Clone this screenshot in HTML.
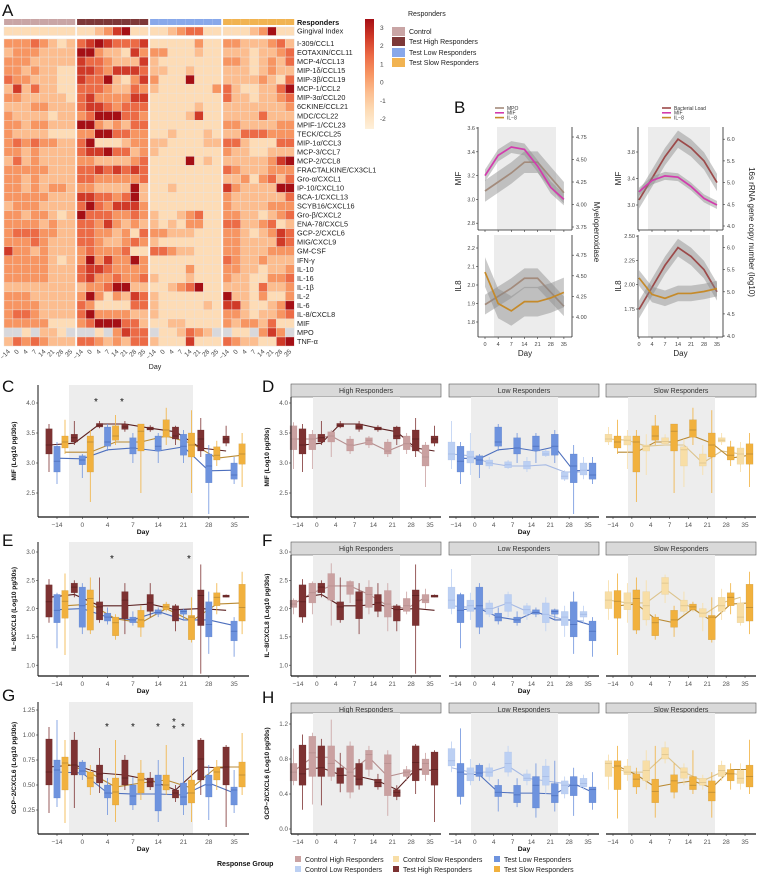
<!DOCTYPE html>
<html><head><meta charset="utf-8"><style>
html,body{margin:0;padding:0;background:#fff;}
svg{display:block;font-family:"Liberation Sans",Arial,sans-serif;}
</style></head><body>
<svg id="fig" width="757" height="879" viewBox="0 0 757 879" xmlns="http://www.w3.org/2000/svg"></svg>
<script>
// ---------- DATA ----------
const days=['\u221214','0','4','7','14','21','28','35'];
const heatRows=['Gingival Index','I-309/CCL1','EOTAXIN/CCL11','MCP-4/CCL13','MIP-1\u03b4/CCL15','MIP-3\u03b2/CCL19','MCP-1/CCL2','MIP-3\u03b1/CCL20','6CKINE/CCL21','MDC/CCL22','MPIF-1/CCL23','TECK/CCL25','MIP-1\u03b1/CCL3','MCP-3/CCL7','MCP-2/CCL8','FRACTALKINE/CX3CL1','Gro-\u03b1/CXCL1','IP-10/CXCL10','BCA-1/CXCL13','SCYB16/CXCL16','Gro-\u03b2/CXCL2','ENA-78/CXCL5','GCP-2/CXCL6','MIG/CXCL9','GM-CSF','IFN-\u03b3','IL-10','IL-16','IL-1\u03b2','IL-2','IL-6','IL-8/CXCL8','MIF','MPO','TNF-\u03b1'];
const heatVals=[
"11111111"+"11235611"+"11234411"+"11123611",
"33343212"+"45654445"+"11111311"+"33222342",
"23332222"+"66322153"+"33111211"+"22212234",
"33322222"+"54432225"+"21111111"+"33212324",
"33232211"+"55435554"+"22112111"+"22212322",
"43322211"+"54462135"+"31116111"+"22223214",
"25242211"+"44432243"+"21111113"+"42112246",
"33222221"+"45333355"+"11111111"+"42212234",
"22233222"+"45543444"+"11111211"+"22222223",
"32222122"+"34666443"+"11112511"+"22224222",
"33233222"+"66323244"+"11111111"+"33222233",
"32222111"+"33664433"+"11211121"+"22444333",
"34343322"+"46111233"+"22111122"+"44211144",
"33232222"+"45564423"+"21111111"+"32211222",
"24232222"+"33222234"+"11116121"+"22222356",
"33333222"+"44545454"+"11111111"+"43222333",
"33232222"+"44333334"+"11111111"+"22313424",
"33232332"+"33222262"+"11211111"+"53222266",
"33333222"+"55443462"+"11111111"+"32222224",
"23332222"+"46435553"+"11111111"+"32222333",
"33233212"+"64443343"+"21123411"+"33221234",
"33332322"+"44353232"+"21213311"+"44223412",
"34443322"+"44332314"+"33222111"+"33212354",
"33343222"+"44322343"+"21111111"+"33222254",
"53323222"+"34333411"+"44322111"+"33222333",
"33333212"+"36353363"+"11111111"+"43223222",
"33333222"+"45543333"+"11113111"+"33221223",
"33333222"+"45334334"+"21112111"+"32211334",
"22222222"+"23346622"+"11234611"+"22214223",
"33322222"+"36313254"+"21111111"+"62213113",
"33332222"+"43111144"+"21111121"+"55211236",
"34432222"+"46333322"+"21111111"+"33212234",
"33333111"+"34666442"+"11221111"+"32332411",
"gg1g221g"+"gg1g3544"+"g112432g"+"g11g353g",
"24343222"+"44323244"+"21115111"+"43221156"];
const colorbarTicks=[3,2,1,0,-1,-2];
const groupNames=['Control','Test High Responders','Test Low Responders','Test Slow Responders'];

// Panel B
const bDays=['0','4','7','14','21','28','35'];
const bMIF=[3.20,3.37,3.44,3.42,3.28,3.10,3.00];
const bMPO=[4.15,4.25,4.35,4.47,4.47,4.30,4.13];
const bIL8=[2.07,1.90,1.86,1.91,1.91,1.93,1.96];
const bLoad=[4.6,5.1,5.6,6.0,5.8,5.5,5.0];

// Box data [lo,q1,med,q3,hi]
const mifTH=[[2.85,3.15,3.30,3.57,3.65],[3.30,3.35,3.42,3.48,3.70],[3.58,3.60,3.63,3.66,3.70],[3.52,3.56,3.60,3.65,3.70],[3.52,3.55,3.57,3.60,3.63],[3.30,3.40,3.45,3.60,3.62],[3.10,3.20,3.40,3.55,3.75],[3.28,3.33,3.40,3.45,3.62]];
const mifTL=[[2.65,2.85,3.03,3.28,3.35],[2.75,2.97,3.05,3.12,3.15],[3.20,3.28,3.35,3.60,3.65],[3.00,3.15,3.25,3.42,3.50],[3.00,3.20,3.28,3.45,3.50],[3.00,3.13,3.28,3.48,3.55],[2.15,2.67,2.95,3.15,3.30],[2.65,2.73,2.80,3.00,3.10]];
const mifTS=[[3.15,3.25,3.35,3.45,3.72],[2.35,2.85,3.35,3.45,3.55],[3.30,3.38,3.45,3.62,3.80],[2.50,3.20,3.53,3.65,3.65],[3.30,3.43,3.55,3.72,3.92],[2.50,3.10,3.30,3.50,3.88],[2.95,3.05,3.13,3.27,3.37],[2.60,2.98,3.15,3.32,3.50]];
const mifCH=[[2.9,3.22,3.40,3.62,3.68],[2.9,3.22,3.40,3.48,3.55],[3.1,3.35,3.45,3.52,3.55],[3.15,3.20,3.30,3.40,3.45],[3.25,3.30,3.38,3.42,3.45],[3.10,3.15,3.20,3.35,3.40],[3.15,3.22,3.32,3.45,3.50],[2.60,2.95,3.10,3.30,3.35]];
const mifCL=[[2.9,3.05,3.15,3.35,3.70],[2.8,3.00,3.10,3.20,3.50],[2.90,2.95,3.00,3.05,3.10],[2.90,2.92,2.97,3.02,3.05],[2.85,2.90,2.95,3.03,3.10],[3.10,3.12,3.15,3.20,3.22],[2.70,2.73,2.78,2.85,2.88],[2.73,2.80,2.88,3.00,3.10]];
const mifCS=[[3.30,3.35,3.40,3.48,3.60],[2.90,3.30,3.38,3.45,3.55],[2.80,3.20,3.28,3.30,3.48],[3.30,3.32,3.36,3.42,3.48],[2.60,2.95,3.22,3.27,3.40],[2.80,2.95,3.00,3.15,3.30],[3.30,3.35,3.38,3.42,3.50],[2.85,2.98,3.15,3.25,3.35]];
const mifTrTH=[3.30,3.33,3.65,3.65,3.58,3.52,3.25,3.20];
const mifTrTL=[3.08,3.07,3.22,3.25,3.20,3.27,2.87,2.88];
const mifTrTS=[3.18,3.18,3.35,3.35,3.45,3.33,3.08,3.13];
const mifTrCH=[3.40,3.40,3.45,3.28,3.35,3.20,3.33,3.12];
const mifTrCL=[3.15,3.12,3.00,2.95,2.95,2.97,2.85,2.85];
const mifTrCS=[3.40,3.38,3.28,3.30,3.30,3.00,3.20,3.15];

const il8TH=[[1.75,1.85,2.12,2.42,2.52],[2.20,2.28,2.38,2.45,2.50],[1.75,1.80,2.03,2.12,2.55],[1.55,1.82,2.15,2.30,2.45],[1.85,1.95,2.10,2.25,2.45],[1.60,1.78,1.98,2.05,2.08],[0.85,1.70,2.23,2.33,2.78],[2.20,2.20,2.22,2.24,2.25]];
const il8TL=[[1.30,1.75,1.97,2.25,2.28],[1.55,1.67,2.05,2.38,2.45],[1.72,1.78,1.85,1.92,2.02],[1.70,1.75,1.80,1.85,1.95],[1.85,1.90,1.93,1.98,2.02],[1.80,1.90,1.95,1.98,2.00],[1.20,1.50,1.72,2.12,2.30],[1.15,1.43,1.60,1.78,1.85]];
const il8TS=[[1.18,1.83,2.13,2.32,2.62],[1.55,1.62,2.18,2.33,2.55],[1.45,1.52,1.75,1.85,1.90],[1.50,1.67,1.80,1.97,2.05],[1.95,1.98,2.03,2.08,2.12],[1.40,1.45,1.85,1.88,2.20],[1.90,2.05,2.20,2.28,2.45],[1.55,1.78,2.02,2.43,2.65]];
const il8CH=[[1.9,2.02,2.08,2.15,2.18],[1.9,2.10,2.28,2.45,2.48],[1.7,2.15,2.40,2.62,2.80],[2.1,2.25,2.40,2.48,2.50],[1.9,2.02,2.25,2.38,2.50],[1.6,1.85,2.08,2.32,2.45],[1.9,1.95,2.05,2.18,2.30],[2.0,2.10,2.15,2.25,2.35]];
const il8CL=[[1.9,2.0,2.15,2.38,2.70],[1.8,1.95,2.05,2.15,2.28],[1.85,1.90,2.00,2.10,2.15],[1.85,1.95,2.10,2.25,2.30],[1.80,1.90,1.98,2.05,2.10],[1.60,1.75,1.90,2.10,2.20],[1.50,1.70,1.85,1.95,2.05],[1.75,1.85,1.90,1.95,2.05]];
const il8CS=[[1.80,2.00,2.15,2.30,2.50],[1.75,1.98,2.10,2.28,2.45],[1.70,1.80,2.05,2.30,2.50],[2.10,2.25,2.45,2.55,2.60],[1.90,1.95,2.05,2.15,2.30],[1.60,1.85,1.92,2.00,2.10],[1.80,1.95,2.05,2.20,2.35],[1.70,1.75,1.85,2.10,2.20]];
const il8TrTH=[2.20,2.25,2.05,2.05,2.08,1.98,2.00,1.97];
const il8TrTL=[1.98,2.00,1.85,1.80,1.95,1.80,1.80,1.70];
const il8TrTS=[2.05,2.08,1.82,1.75,2.00,1.78,2.08,2.10];
const il8TrCH=[2.08,2.28,2.40,2.40,2.25,2.05,2.00,2.20];
const il8TrCL=[2.05,2.02,1.98,2.10,1.95,1.90,1.80,1.78];
const il8TrCS=[2.15,2.10,2.10,2.35,2.10,1.88,2.10,2.20];

const gcpTH=[[0.22,0.50,0.63,0.96,1.08],[0.27,0.60,0.70,0.95,1.03],[0.42,0.52,0.61,0.70,0.87],[0.45,0.50,0.57,0.75,0.80],[0.45,0.48,0.53,0.57,0.63],[0.33,0.37,0.42,0.45,0.50],[0.40,0.55,0.76,0.95,0.97],[0.08,0.50,0.68,0.88,0.90]];
const gcpTL=[[0.28,0.37,0.65,0.75,1.15],[0.55,0.60,0.64,0.73,0.75],[0.20,0.37,0.42,0.50,0.57],[0.25,0.30,0.39,0.50,0.58],[0.13,0.24,0.50,0.60,0.75],[0.20,0.30,0.38,0.52,0.78],[0.15,0.38,0.50,0.60,0.70],[0.22,0.30,0.45,0.48,0.65]];
const gcpTS=[[0.12,0.45,0.72,0.78,0.95],[0.40,0.48,0.57,0.63,0.70],[0.13,0.30,0.43,0.57,0.95],[0.35,0.42,0.55,0.62,0.75],[0.40,0.45,0.50,0.60,0.90],[0.13,0.32,0.42,0.55,0.65],[0.45,0.55,0.63,0.68,0.75],[0.40,0.48,0.60,0.73,1.02]];
const gcpCH=[[0.50,0.55,0.65,0.75,0.92],[0.28,0.60,0.87,1.06,1.10],[0.55,0.60,0.75,0.95,1.25],[0.35,0.42,0.65,0.95,1.00],[0.60,0.68,0.85,0.90,0.95],[0.15,0.38,0.75,0.85,0.90],[0.55,0.60,0.65,0.68,0.72],[0.55,0.62,0.75,0.80,0.87]];
const gcpCL=[[0.65,0.72,0.78,0.92,1.00],[0.50,0.55,0.63,0.70,0.80],[0.55,0.60,0.65,0.70,0.75],[0.60,0.65,0.75,0.88,0.95],[0.50,0.55,0.58,0.63,0.68],[0.40,0.50,0.60,0.72,0.80],[0.35,0.40,0.50,0.55,0.60],[0.45,0.48,0.52,0.58,0.62]];
const gcpCS=[[0.45,0.60,0.75,0.78,0.85],[0.55,0.62,0.65,0.72,0.80],[0.45,0.55,0.67,0.78,0.90],[0.75,0.80,0.85,0.93,1.00],[0.50,0.58,0.65,0.70,0.75],[0.45,0.50,0.53,0.58,0.62],[0.55,0.60,0.67,0.73,0.78],[0.45,0.52,0.58,0.67,0.75]];
const gcpTrTH=[0.68,0.70,0.62,0.60,0.55,0.45,0.68,0.67];
const gcpTrTL=[0.63,0.62,0.42,0.41,0.41,0.40,0.52,0.42];
const gcpTrTS=[0.72,0.62,0.48,0.52,0.55,0.47,0.68,0.68];
const gcpTrCH=[0.66,0.82,0.82,0.65,0.82,0.60,0.65,0.70];
const gcpTrCL=[0.70,0.65,0.65,0.72,0.58,0.55,0.52,0.48];
const gcpTrCS=[0.72,0.65,0.65,0.85,0.65,0.55,0.65,0.62];

const legendLabels=['Control High Responders','Control Low Responders','Control Slow Responders','Test High Responders','Test Low Responders','Test Slow Responders'];

// ---------- DRAWING ----------
const NS='http://www.w3.org/2000/svg';
const svg=document.getElementById('fig');
function mk(tag,attrs,parent){const e=document.createElementNS(NS,tag);for(const k in attrs)e.setAttribute(k,attrs[k]);(parent||svg).appendChild(e);return e;}
function txt(x,y,s,attrs,parent){const e=mk('text',Object.assign({x:x,y:y},attrs),parent);e.textContent=s;return e;}
const C={CH:'#caa1a1',TH:'#7d3232',CL:'#bcd0f3',TL:'#6e93de',CS:'#f8dea6',TS:'#f1b13e'};
const LC={CH:'#b58e8e',TH:'#5a1f1f',CL:'#a5b9e4',TL:'#4d6fbd',CS:'#dcc38c',TS:'#b98a34'};
const heatPal=['#fef0da','#fddcb6','#fcbd8f','#f79562','#ec6b46','#d03a28','#a50f15'];
const grpCol=['#c9a5a5','#7d3838','#88a8ea','#f1b351'];

// Panel letters
[['A',2,16],['B',454,113],['C',2,392],['D',262,392],['E',2,546],['F',262,546],['G',2,701],['H',262,703]].forEach(function(p){
  const t=txt(p[1],p[2],p[0],{'font-size':17,fill:'#111'});
  
  
});

// Heatmap
const hm=mk('g',{});


const gx=[4,77,150,223], cw=8.9, rowTop=39, rh=9.03;
for(let g=0;g<4;g++){
  const bar=mk('rect',{x:gx[g],y:19,width:cw*8,height:6,fill:grpCol[g]},hm);
  
  
  for(let c=0;c<8;c++){
    mk('line',{x1:gx[g]+c*cw,x2:gx[g]+c*cw,y1:19,y2:25,stroke:'#fff','stroke-width':0.3,'stroke-opacity':0.5},hm);
  }
}
heatVals.forEach(function(row,r){
  const y=r===0?27:rowTop+(r-1)*rh;
  const h=r===0?8.5:rh;
  for(let i=0;i<32;i++){
    const g=Math.floor(i/8),c=i%8;
    const ch=row[i];
    const fill=ch==='g'?'#d8d8dc':heatPal[+ch];
    const cell=mk('rect',{x:gx[g]+c*cw,y:y,width:cw,height:h,fill:fill,stroke:'#e9e2dc','stroke-width':0.4},hm);
    
    
  }
  const lab=txt(297,y+h-2,heatRows[r],{'font-size':7.3,fill:'#222'},hm);
  
  
});
{const t=txt(297,25,'Responders',{'font-size':7.3,'font-weight':'bold',fill:'#111'},hm);

}
for(let g=0;g<4;g++)for(let c=0;c<8;c++){
  const x=gx[g]+c*cw+cw/2+2, y=352;
  const t=txt(x,y,days[c],{'font-size':6.5,fill:'#444','text-anchor':'end',transform:'rotate(-45 '+x+' '+y+')'},hm);
  
  
}
{const t=txt(155,369,'Day',{'font-size':7,fill:'#222','text-anchor':'middle'},hm);

}
// colorbar
const defs=mk('defs',{});
const lg=mk('linearGradient',{id:'cb',x1:0,y1:0,x2:0,y2:1},defs);
['#a50f15','#d03a28','#ec6b46','#f79562','#fcbd8f','#fddcb6','#fef0da'].forEach(function(c,i){mk('stop',{offset:(i/6),'stop-color':c},lg);});
{const cb=mk('rect',{x:365,y:19,width:9,height:110,fill:'url(#cb)'});

}
colorbarTicks.forEach(function(v,i){
  const t=txt(380,30+i*18.2,String(v).replace('-','-'),{'font-size':6.5,fill:'#444'});
  
  
});
{const t=txt(408,16,'Responders',{'font-size':7,fill:'#222'});

}
groupNames.forEach(function(n,i){
  const y=[27,37,48,58][i];
  const s=mk('rect',{x:392,y:y,width:13,height:9,fill:grpCol[i]});
  
  
  const t=txt(409,y+7,n,{'font-size':7,fill:'#222'});
  
  
});

// Panel B
function bPanel(cfg){
  const g=mk('g',{});
  
  
  const xs=function(i){return cfg.xa+i*cfg.xs;};
  mk('rect',{x:cfg.sh[0],y:cfg.yt,width:cfg.sh[1]-cfg.sh[0],height:cfg.yb-cfg.yt,fill:'#ececec'},g);
  cfg.series.forEach(function(s){
    const pts=[],lo=[],hi=[];
    s.vals.forEach(function(v,i){pts.push(xs(i)+','+s.map(v));lo.push(xs(i)+','+s.map(v-s.band));hi.unshift(xs(i)+','+s.map(v+s.band));});
    const rb=mk('polygon',{points:lo.concat(hi).join(' '),fill:'#8a8a8a','fill-opacity':0.45},g);
    
    
    const ln=mk('polyline',{points:pts.join(' '),fill:'none',stroke:s.color,'stroke-width':1.7},g);
    
    
  });
  mk('line',{x1:cfg.xl,x2:cfg.xl,y1:cfg.yt,y2:cfg.yb,stroke:'#222','stroke-width':0.8},g);
  mk('line',{x1:cfg.xl,x2:cfg.xr,y1:cfg.yb,y2:cfg.yb,stroke:'#222','stroke-width':0.8},g);
  mk('line',{x1:cfg.xr,x2:cfg.xr,y1:cfg.yt,y2:cfg.yb,stroke:'#222','stroke-width':0.8},g);
  cfg.lt.forEach(function(t){const y=cfg.lmap(t[0]);mk('line',{x1:cfg.xl-2,x2:cfg.xl,y1:y,y2:y,stroke:'#333','stroke-width':0.6},g);
    const e=txt(cfg.xl-3,y+2,t[1],{'font-size':5.5,fill:'#444','text-anchor':'end'},g);});
  cfg.rt.forEach(function(t){const y=cfg.rmap(t[0]);mk('line',{x1:cfg.xr,x2:cfg.xr+2,y1:y,y2:y,stroke:'#333','stroke-width':0.6},g);
    const e=txt(cfg.xr+4,y+2,t[1],{'font-size':5.5,fill:'#444'},g);});
  bDays.forEach(function(d,i){mk('line',{x1:xs(i),x2:xs(i),y1:cfg.yb,y2:cfg.yb+2,stroke:'#333','stroke-width':0.6},g);
    if(cfg.xlab){const e=txt(xs(i),cfg.yb+9,d,{'font-size':5.5,fill:'#444','text-anchor':'middle'},g);}});
  const yt=txt(cfg.xl-17,(cfg.yt+cfg.yb)/2,cfg.ytitle,{'font-size':8,fill:'#222','text-anchor':'middle',transform:'rotate(-90 '+(cfg.xl-17)+' '+((cfg.yt+cfg.yb)/2)+')'},g);
  
  
  if(cfg.xlab){const e=txt((cfg.xl+cfg.xr)/2,cfg.yb+19,'Day',{'font-size':8,fill:'#222','text-anchor':'middle'},g);}
}
const lmMIFa=function(v){return 128+(3.6-v)/0.2*23.8;};
const rmMPOa=function(v){return 227-(v-3.75)/0.25*22.5;};
const lmIL8a=function(v){return 248+(2.2-v)/0.1*18.5;};
const rmMPOb=function(v){return 317-(v-4.0)/0.25*20.6;};
const lmMIFb=function(v){return 205-(v-3.0)/0.4*26.5;};
const rmLoadb=function(v){return 226-(v-4.0)/0.5*21.7;};
const lmIL8b=function(v){return 309-(v-1.75)/0.25*24.3;};
const rmLoadc=function(v){return 336-(v-4.0)/0.5*22.1;};
bPanel({name:'b-left-top',xl:478,xr:572,yt:127,yb:230,xa:485,xs:13.15,sh:[497,556],xlab:false,ytitle:'MIF',
  lmap:lmMIFa,rmap:rmMPOa,lt:[[2.8,'2.8'],[3.0,'3.0'],[3.2,'3.2'],[3.4,'3.4'],[3.6,'3.6']],rt:[[3.75,'3.75'],[4.0,'4.00'],[4.25,'4.25'],[4.5,'4.50'],[4.75,'4.75']],
  series:[{key:'mpo',vals:bMPO,map:rmMPOa,band:0.12,color:'#a38b7c'},{key:'mif',vals:bMIF,map:lmMIFa,band:0.05,color:'#d23cad'}]});
bPanel({name:'b-left-bottom',xl:478,xr:572,yt:235,yb:337,xa:485,xs:13.15,sh:[494,555],xlab:true,ytitle:'IL8',
  lmap:lmIL8a,rmap:rmMPOb,lt:[[1.8,'1.8'],[1.9,'1.9'],[2.0,'2.0'],[2.1,'2.1'],[2.2,'2.2']],rt:[[4.0,'4.00'],[4.25,'4.25'],[4.5,'4.50'],[4.75,'4.75']],
  series:[{key:'mpo',vals:bMPO,map:rmMPOb,band:0.12,color:'#a38b7c'},{key:'il8',vals:bIL8,map:lmIL8b===null?null:lmIL8a,band:0.08,color:'#c58a2a'}]});
bPanel({name:'b-right-top',xl:638,xr:723,yt:127,yb:230,xa:639,xs:13,sh:[648,710],xlab:false,ytitle:'MIF',
  lmap:lmMIFb,rmap:rmLoadb,lt:[[3.0,'3.0'],[3.4,'3.4'],[3.8,'3.8']],rt:[[4.0,'4.0'],[4.5,'4.5'],[5.0,'5.0'],[5.5,'5.5'],[6.0,'6.0']],
  series:[{key:'load',vals:bLoad,map:rmLoadb,band:0.2,color:'#9c4a4a'},{key:'mif',vals:bMIF,map:lmMIFb,band:0.06,color:'#d23cad'}]});
bPanel({name:'b-right-bottom',xl:638,xr:723,yt:235,yb:337,xa:639,xs:13,sh:[648,710],xlab:true,ytitle:'IL8',
  lmap:lmIL8b,rmap:rmLoadc,lt:[[1.75,'1.75'],[2.0,'2.00'],[2.25,'2.25'],[2.5,'2.50']],rt:[[4.0,'4.0'],[4.5,'4.5'],[5.0,'5.0'],[5.5,'5.5'],[6.0,'6.0']],
  series:[{key:'load',vals:bLoad,map:rmLoadc,band:0.2,color:'#9c4a4a'},{key:'il8',vals:bIL8,map:lmIL8b,band:0.08,color:'#c58a2a'}]});
[[495,'MPO','#a38b7c'],[495,'MIF','#d23cad'],[495,'IL\u22128','#c58a2a'],[662,'Bacterial Load','#9c4a4a'],[662,'MIF','#d23cad'],[662,'IL\u22128','#c58a2a']].forEach(function(l,i){
  const y=108+(i%3)*4.8;
  mk('line',{x1:l[0],x2:l[0]+9,y1:y,y2:y,stroke:l[2],'stroke-width':1.6});
  const t=txt(l[0]+12,y+1.8,l[1],{'font-size':5,fill:'#333'});
  
  
});
{const t=txt(594,232,'Myeloperoxidase',{'font-size':8,fill:'#222','text-anchor':'middle',transform:'rotate(90 594 232)'});

const t2=txt(749,232,'16s rRNA gene copy number (log10)',{'font-size':8,fill:'#222','text-anchor':'middle',transform:'rotate(90 749 232)'});
}

// Box panels
function boxPanel(cfg){
  const g=mk('g',{});
  
  
  if(cfg.strip){
    const s=mk('rect',{x:cfg.x0,y:cfg.st,width:cfg.x1-cfg.x0,height:cfg.yt-cfg.st,fill:'#d9d9d9',stroke:'#555','stroke-width':0.6},g);
    
    
    const t=txt((cfg.x0+cfg.x1)/2,cfg.st+9,cfg.strip,{'font-size':7,fill:'#333','text-anchor':'middle'},g);
    
    
  }
  mk('rect',{x:cfg.sh[0],y:cfg.yt,width:cfg.sh[1]-cfg.sh[0],height:cfg.yb-cfg.yt,fill:'#ededed'},g);
  cfg.series.forEach(function(s){
    const pts=s.trend.map(function(v,i){return (cfg.xc(i)+s.off)+','+cfg.vm(v);});
    const ln=mk('polyline',{points:pts.join(' '),fill:'none',stroke:s.lc,'stroke-width':1.1},g);
    
    
  });
  cfg.series.forEach(function(s){
    s.boxes.forEach(function(b,i){
      const cx=cfg.xc(i)+s.off;
      const bg=mk('g',{},g);
      
      
      mk('line',{x1:cx,x2:cx,y1:cfg.vm(b[0]),y2:cfg.vm(b[4]),stroke:s.c,'stroke-width':0.8},bg);
      mk('rect',{x:cx-s.w/2,y:cfg.vm(b[3]),width:s.w,height:Math.max(0.8,cfg.vm(b[1])-cfg.vm(b[3])),fill:s.c,stroke:s.lc,'stroke-width':0.35,'stroke-opacity':0.6},bg);
      mk('line',{x1:cx-s.w/2,x2:cx+s.w/2,y1:cfg.vm(b[2]),y2:cfg.vm(b[2]),stroke:s.lc,'stroke-width':0.8},bg);
    });
  });
  if(cfg.yaxis) mk('line',{x1:cfg.x0,x2:cfg.x0,y1:cfg.yt,y2:cfg.yb,stroke:'#111','stroke-width':1},g);
  mk('line',{x1:cfg.x0,x2:cfg.x1,y1:cfg.yb,y2:cfg.yb,stroke:'#111','stroke-width':1.2},g);
  if(cfg.yaxis) cfg.ticks.forEach(function(t){const y=cfg.vm(t[0]);mk('line',{x1:cfg.x0-2,x2:cfg.x0,y1:y,y2:y,stroke:'#333','stroke-width':0.6},g);
    const e=txt(cfg.x0-3,y+2.2,t[1],{'font-size':6.3,fill:'#555','text-anchor':'end'},g);});
  days.forEach(function(d,i){const x=cfg.xc(i);mk('line',{x1:x,x2:x,y1:cfg.yb,y2:cfg.yb+2,stroke:'#333','stroke-width':0.6},g);
    const e=txt(x,cfg.yb+10,d,{'font-size':6.5,fill:'#555','text-anchor':'middle'},g);});
  if(cfg.day){const e=txt(cfg.day,cfg.yb+17,'Day',{'font-size':6.8,'font-weight':'bold',fill:'#111','text-anchor':'middle'},g);}
  if(cfg.ytitle){const cy=(cfg.yt+cfg.yb)/2,x=cfg.x0-22;const e=txt(x,cy,cfg.ytitle,{'font-size':6.5,'font-weight':'bold',fill:'#111','text-anchor':'middle',transform:'rotate(-90 '+x+' '+cy+')'},g);}
  (cfg.stars||[]).forEach(function(s){const e=txt(s[0],s[1],'*',{'font-size':10,fill:'#111','text-anchor':'middle'},g);});
}
const rows=[
 {key:'mif',title:'MIF (Log10 pg/30s)',yt:385,yb:517,st:384,fyt:397,vm:function(v){return 403+(4.0-v)*60;},ticks:[[2.5,'2.5'],[3.0,'3.0'],[3.5,'3.5'],[4.0,'4.0']],
  fvm:null,fticks:null,T:[mifTH,mifTL,mifTS],Tr:[mifTrTH,mifTrTL,mifTrTS],Cc:[mifCH,mifCL,mifCS],Ctr:[mifTrCH,mifTrCL,mifTrCS],stars:[[96,405],[122,405]]},
 {key:'il8',title:'IL\u22128/CXCL8 (Log10 pg/30s)',yt:542,yb:676,st:542,fyt:555,vm:function(v){return 552+(3.0-v)*56.6;},ticks:[[1.0,'1.0'],[1.5,'1.5'],[2.0,'2.0'],[2.5,'2.5'],[3.0,'3.0']],
  fvm:null,fticks:null,T:[il8TH,il8TL,il8TS],Tr:[il8TrTH,il8TrTL,il8TrTS],Cc:[il8CH,il8CL,il8CS],Ctr:[il8TrCH,il8TrCL,il8TrCS],stars:[[112,562],[189,562]]},
 {key:'gcp',title:'GCP\u22122/CXCL6 (Log10 pg/30s)',yt:702,yb:834,st:703,fyt:713,vm:function(v){return 810-(v-0.25)*100;},ticks:[[0.25,'0.25'],[0.5,'0.50'],[0.75,'0.75'],[1.0,'1.00'],[1.25,'1.25']],
  fvm:function(v){return 829-v*87.5;},fticks:[[0,'0.0'],[0.4,'0.4'],[0.8,'0.8'],[1.2,'1.2']],T:[gcpTH,gcpTL,gcpTS],Tr:[gcpTrTH,gcpTrTL,gcpTrTS],Cc:[gcpCH,gcpCL,gcpCS],Ctr:[gcpTrCH,gcpTrCL,gcpTrCS],stars:[[107,730],[133,730],[158,730],[174,725],[174,732],[183,730]]}
];
const tk=['TH','TL','TS'], ck=['CH','CL','CS'], facetNames=['High Responders','Low Responders','Slow Responders'], fx=[291,449,606];
rows.forEach(function(r){
  boxPanel({name:'panel-'+r.key+'-combined',x0:38,x1:249,yt:r.yt,yb:r.yb,vm:r.vm,ticks:r.ticks,xc:function(i){return 57+i*25.3;},sh:[69,193],yaxis:true,ytitle:r.title,day:143,stars:r.stars,
    series:[0,1,2].map(function(k){return {key:tk[k],boxes:r.T[k],trend:r.Tr[k],c:C[tk[k]],lc:LC[tk[k]],off:(k-1)*8,w:6.5};})});
  [0,1,2].forEach(function(f){
    const x0=fx[f];
    boxPanel({name:'panel-'+r.key+'-facet-'+f,x0:x0,x1:x0+150,st:r.st,yt:r.fyt,yb:r.yb,vm:r.fvm||r.vm,ticks:r.fticks||r.ticks,strip:facetNames[f],
      xc:function(i){return x0+7+i*18.86;},sh:[x0+22,x0+109],yaxis:f===0,ytitle:f===0?r.title:null,day:f===1?x0+75:null,
      series:[{key:ck[f],boxes:r.Cc[f],trend:r.Ctr[f],c:C[ck[f]],lc:LC[ck[f]],off:-4.5,w:7},{key:tk[f],boxes:r.T[f],trend:r.Tr[f],c:C[tk[f]],lc:LC[tk[f]],off:4.5,w:7}]});
  });
});

// Bottom legend
{const t=txt(217,866,'Response Group',{'font-size':7,'font-weight':'bold',fill:'#111'});
}
const legPos=[[295,862,'CH'],[295,872,'CL'],[393,862,'CS'],[393,872,'TH'],[494,862,'TL'],[494,872,'TS']];
legPos.forEach(function(p,i){
  const s=mk('rect',{x:p[0],y:p[1]-6,width:6,height:6,fill:C[p[2]]});
  
  
  const lab=[ 'Control High Responders','Control Low Responders','Control Slow Responders','Test High Responders','Test Low Responders','Test Slow Responders'];
  const t=txt(p[0]+10,p[1],lab[i],{'font-size':7,fill:'#222'});
  
  
});
</script>
</body></html>
